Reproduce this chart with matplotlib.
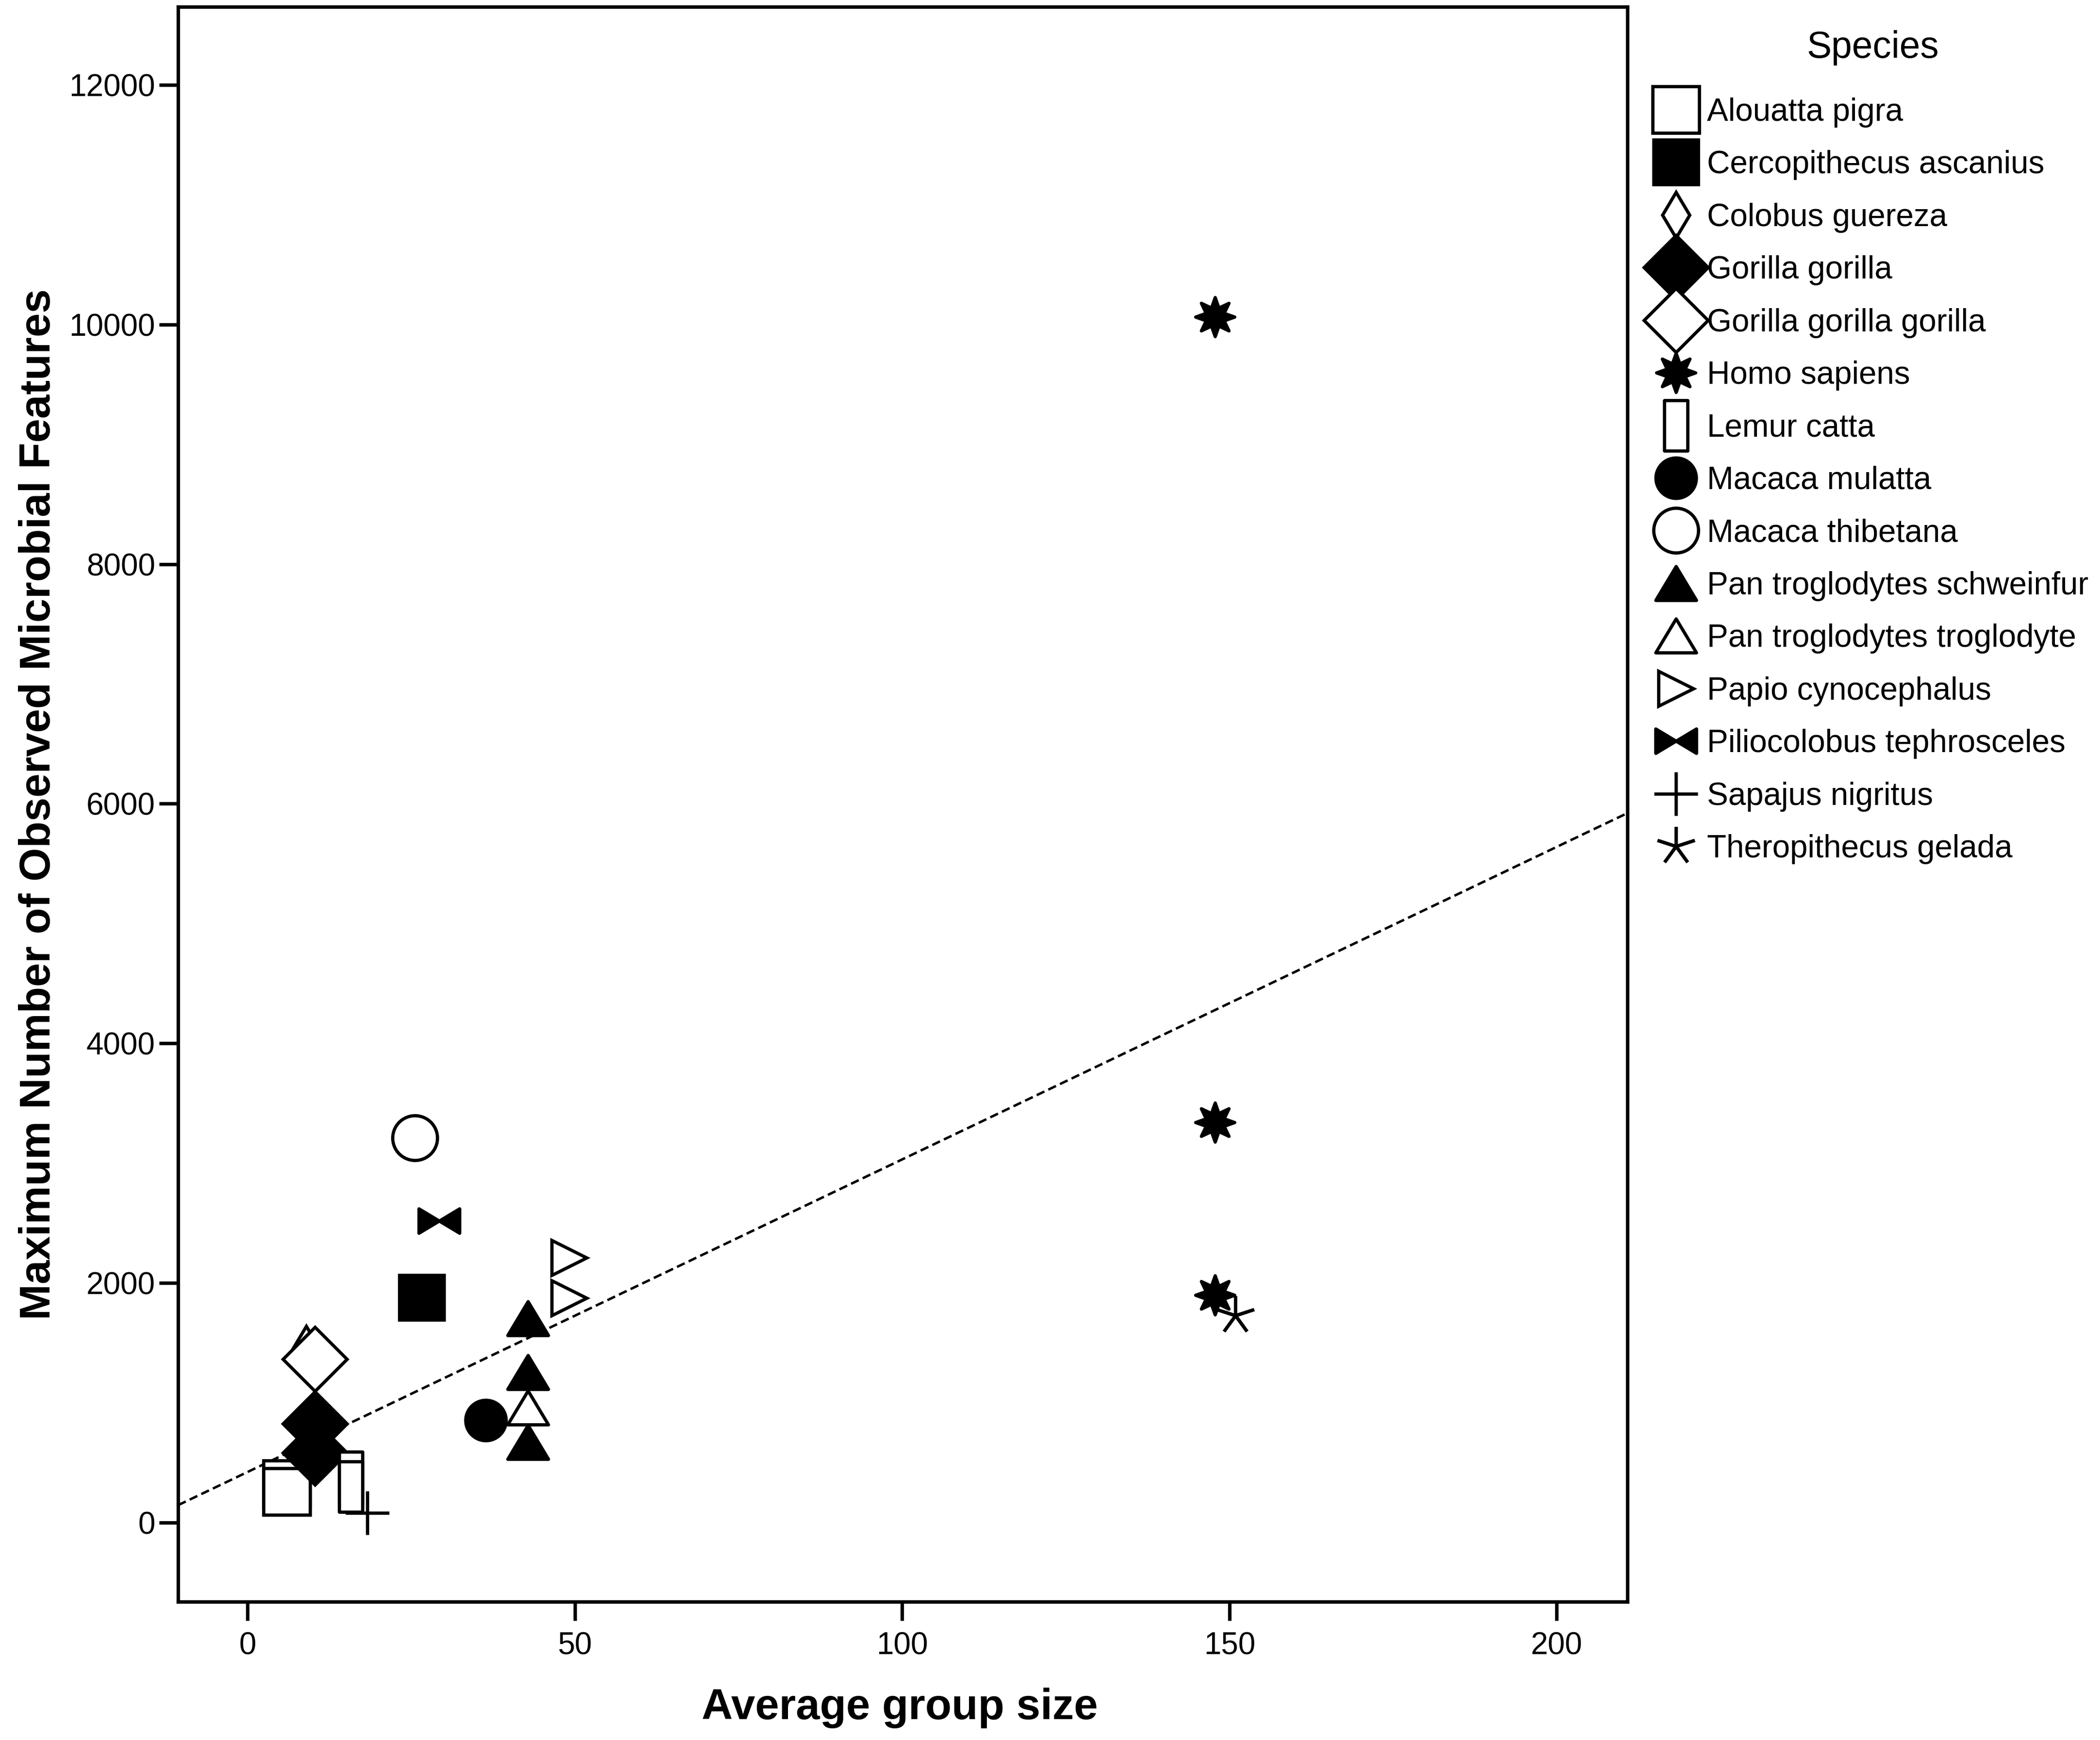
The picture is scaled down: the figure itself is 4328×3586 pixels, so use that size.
import matplotlib
matplotlib.use("Agg")
import numpy as np
import matplotlib.pyplot as plt
from matplotlib.path import Path

plt.rcParams['font.family'] = ['Liberation Sans', 'DejaVu Sans']

# --- data ---
species = ["Alouatta pigra", "Cercopithecus ascanius", "Colobus guereza",
           "Gorilla gorilla", "Gorilla gorilla gorilla", "Homo sapiens",
           "Lemur catta", "Macaca mulatta", "Macaca thibetana",
           "Pan troglodytes schweinfur", "Pan troglodytes troglodyte",
           "Papio cynocephalus", "Piliocolobus tephrosceles",
           "Sapajus nigritus", "Theropithecus gelada"]

group_size = [
    [6.0, 6.0],
    [26.6],
    [9.0],
    [10.3, 10.3],
    [10.3],
    [147.8, 147.8, 147.8],
    [15.8, 15.8],
    [36.4],
    [25.6],
    [42.8, 42.8, 42.8],
    [42.8],
    [49.1, 49.1],
    [29.3],
    [18.3],
    [150.9],
]
max_features = [
    [324, 257],
    [1877],
    [1450],
    [827, 581],
    [1363],
    [10064, 3340, 1899],
    [380, 300],
    [854],
    [3210],
    [1704, 1256, 672],
    [960],
    [2211, 1876],
    [2518],
    [82],
    [1731],
]

# fit line (as drawn in the reference)
fit_intercept = 422
fit_slope = 26.09

x_ticks = [0, 50, 100, 150, 200]
y_ticks = [0, 2000, 4000, 6000, 8000, 10000, 12000]

# --- custom marker shapes ---
ang_out = np.deg2rad(90 + 45 * np.arange(8))
ang_in = ang_out + np.deg2rad(22.5)
star_pts = []
for a, b in zip(ang_out, ang_in):
    star_pts.append((np.cos(a), np.sin(a)))
    star_pts.append((0.5 * np.cos(b), 0.5 * np.sin(b)))
star_pts.append(star_pts[0])
star8 = Path(star_pts, closed=True)

tall_rect = Path([(-0.46, -1), (0.46, -1), (0.46, 1), (-0.46, 1), (-0.46, -1)], closed=True)
tri_up = Path([(-0.6, -0.5), (0.6, -0.5), (0, 0.5), (-0.6, -0.5)], closed=True)
bowtie = Path([(-1, -0.6), (-1, 0.6), (0, 0), (1, 0.6), (1, -0.6), (0, 0), (-1, -0.6)], closed=True)

# marker, size (pt), filled
styles = [
    ('s', 17.3, False),
    ('s', 16.5, True),
    ('d', 12.0, False),
    ('D', 16.7, True),
    ('D', 16.7, False),
    (star8, 14.5, True),
    (tall_rect, 18.9, False),
    ('o', 15.0, True),
    ('o', 16.6, False),
    (tri_up, 15.1, True),
    (tri_up, 15.1, False),
    ('>', 13.0, False),
    (bowtie, 15.1, True),
    ('+', 16.2, False),
    ((5, 2, 0), 14.5, False),
]

fig = plt.figure(figsize=(10.82, 8.965), dpi=400)
ax = fig.add_axes([0.0848, 0.0795, 0.6902, 0.9165])

handles = []
for name, xs, ys, (mk, ms, filled) in zip(species, group_size, max_features, styles):
    h, = ax.plot(xs, ys, linestyle='none', marker=mk, markersize=ms,
                 markerfacecolor='black' if filled else 'white',
                 markeredgecolor='black', markeredgewidth=1.2, label=name)
    handles.append(h)

ax.axline((0, fit_intercept), slope=fit_slope, color='black', linestyle=(0, (3.5, 1.8)),
          linewidth=0.9, zorder=1)

ax.set_xlim(-10.6, 210.8)
ax.set_ylim(-660, 12650)
ax.set_xticks(x_ticks)
ax.set_yticks(y_ticks)
ax.tick_params(direction='out', length=7, width=1.3, labelsize=11.5, color='black')
ax.tick_params(axis='x', pad=4)
ax.tick_params(axis='y', pad=1.5)
for sp in ax.spines.values():
    sp.set_linewidth(1.3)
    sp.set_color('black')

ax.set_xlabel("Average group size", fontsize=16, fontweight='bold')
ax.set_ylabel("Maximum Number of Observed Microbial Features", fontsize=16, fontweight='bold')
ax.xaxis.set_label_coords(0.498, -0.054)
ax.yaxis.set_label_coords(-0.082, 0.5)

leg = fig.legend(handles=handles, labels=species, loc='upper left',
                 bbox_to_anchor=(0.789, 0.9827), frameon=False, numpoints=1,
                 fontsize=11.8, title="Species", title_fontsize=13.8,
                 labelspacing=0.709, handlelength=1.2, handletextpad=0.38,
                 borderpad=0, borderaxespad=0)
leg._legend_box.sep = 11.8

fig.savefig("out.png", dpi=400, facecolor='white')
